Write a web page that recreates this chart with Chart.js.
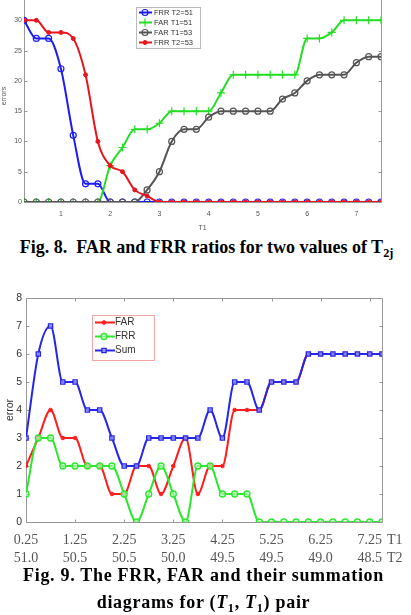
<!DOCTYPE html>
<html><head><meta charset="utf-8">
<script src="https://cdn.jsdelivr.net/npm/chart.js@4.4.0/dist/chart.umd.min.js"></script>
<style>
html,body{margin:0;padding:0;background:#fff;width:411px;height:615px;overflow:hidden;position:relative;}
#c1wrap{position:absolute;left:0;top:-20px;width:411px;height:255px;}
#c2wrap{position:absolute;left:0;top:285px;width:411px;height:285px;}
.cap{position:absolute;left:0;width:411px;text-align:center;font-family:"Liberation Serif","Times New Roman",serif;font-weight:bold;color:#000;white-space:nowrap;}
.cap sub{font-size:0.68em;vertical-align:-0.32em;line-height:0;}
.axn{position:absolute;left:387px;font-family:"Liberation Serif","Times New Roman",serif;font-size:14px;color:#555;line-height:18px;}
</style></head>
<body>
<div id="c1wrap"><canvas id="c1" width="411" height="255"></canvas></div>
<div class="cap" style="top:236px;font-size:18px;line-height:22px;left:1px;">Fig. 8.&nbsp; FAR and FRR ratios for two values of T<sub>2j</sub></div>
<div id="c2wrap"><canvas id="c2" width="411" height="285"></canvas></div>
<div class="axn" style="top:531px;">T1</div>
<div class="axn" style="top:549px;">T2</div>
<div class="cap" style="top:562px;font-size:18px;line-height:27px;letter-spacing:0.7px;left:-2px;">Fig. 9. The FRR, FAR and their summation<br>diagrams for (<i>T</i><sub>1</sub>, <i>T</i><sub>1</sub>) pair</div>
<script>
// ---------- Data: Fig. 8 ----------
const t1Values = [0.25,0.5,0.75,1.0,1.25,1.5,1.75,2.0,2.25,2.5,2.75,3.0,3.25,3.5,3.75,4.0,4.25,4.5,4.75,5.0,5.25,5.5,5.75,6.0,6.25,6.5,6.75,7.0,7.25,7.5];
const frrT2_51 = [30,27,27,22,11,3,3,0,0,0,0,0,0,0,0,0,0,0,0,0,0,0,0,0,0,0,0,0,0,0];
const farT1_51 = [0,0,0,0,0,0,0,6,9,12,12,13,15,15,15,15,18,21,21,21,21,21,21,27,27,28,30,30,30,30];
const farT1_53 = [0,0,0,0,0,0,0,0,0,0,2,5,10,12,12,14,15,15,15,15,15,17,18,20,21,21,21,23,24,24];
const frrT2_53 = [30,30,28,28,27,21,10,6,5,2,1,0,0,0,0,0,0,0,0,0,0,0,0,0,0,0,0,0,0,0];
const fig8Labels = ['FRR T2=51','FAR T1=51','FAR T1=53','FRR T2=53'];
const fig8XTicks = [1,2,3,4,5,6,7];

// ---------- Data: Fig. 9 ----------
const far9 = [2,3,4,3,3,2,2,1,1,2,2,1,2,3,1,2,2,4,4,4,5,5,5,6,6,6,6,6,6,6];
const frr9 = [1,3,3,2,2,2,2,2,1,0,1,2,1,0,2,2,1,1,1,0,0,0,0,0,0,0,0,0,0,0];
const sum9 = [3,6,7,5,5,4,4,3,2,2,3,3,3,3,3,4,3,5,5,4,5,5,5,6,6,6,6,6,6,6];
const fig9Labels = ['FAR','FRR','Sum'];
const fig9XTicks = [0.25,1.25,2.25,3.25,4.25,5.25,6.25,7.25];
const t1TickLabels = ['0.25','1.25','2.25','3.25','4.25','5.25','6.25','7.25'];
const t2TickLabels = ['51.0','50.5','50.5','50.0','49.5','49.5','49.0','48.5'];

const pts = (ys) => t1Values.map((x,i)=>({x:x,y:ys[i]}));

// Matlab-like box with inward ticks
const matlabBox = {
  id:'matlabBox',
  beforeDatasetsDraw(chart, args, o){
    if(!o || !o.color) return;
    const {ctx, chartArea:a, scales} = chart;
    ctx.save();
    ctx.strokeStyle=o.color; ctx.lineWidth=1;
    const L=Math.round(a.left)+0.5, R=Math.round(a.right)+0.5, T=Math.round(a.top)+0.5, B=Math.round(a.bottom)+0.5;
    ctx.beginPath();
    ctx.moveTo(L,T); ctx.lineTo(L,B); ctx.lineTo(R,B); ctx.lineTo(R,T); ctx.lineTo(L,T);
    ctx.stroke();
    const len=o.len;
    ctx.beginPath();
    scales.x.ticks.forEach(t=>{const p=Math.round(scales.x.getPixelForValue(t.value))+0.5;
      ctx.moveTo(p,B); ctx.lineTo(p,B-len); ctx.moveTo(p,T); ctx.lineTo(p,T+len);});
    scales.y.ticks.forEach(t=>{const p=Math.round(scales.y.getPixelForValue(t.value))+0.5;
      ctx.moveTo(L,p); ctx.lineTo(L+len,p); ctx.moveTo(R,p); ctx.lineTo(R-len,p);});
    ctx.stroke(); ctx.restore();
  }
};

// Boxed legend drawn inside the plot
const boxLegend = {
  id:'boxLegend',
  afterDatasetsDraw(chart, args, o){
    if(!o || !o.w) return;
    const ctx=chart.ctx; ctx.save();
    ctx.fillStyle='#fff'; ctx.fillRect(o.x,o.y,o.w,o.h);
    ctx.strokeStyle=o.border; ctx.lineWidth=1; ctx.strokeRect(o.x+0.5,o.y+0.5,o.w,o.h);
    chart.data.datasets.forEach((ds,i)=>{
      const y=o.y0+i*o.dy;
      ctx.strokeStyle=ds.borderColor; ctx.lineWidth=ds.borderWidth;
      ctx.beginPath(); ctx.moveTo(o.lx1,y); ctx.lineTo(o.lx2,y); ctx.stroke();
      ctx.fillStyle=ds.pointBackgroundColor; ctx.strokeStyle=ds.borderColor; ctx.lineWidth=ds.pointBorderWidth||1;
      Chart.helpers.drawPoint(ctx,{pointStyle:ds.pointStyle,radius:ds.pointRadius,borderWidth:ds.pointBorderWidth||1,rotation:0},o.mx,y);
      ctx.fillStyle=o.textColor; ctx.font=o.font; ctx.textBaseline='middle'; ctx.textAlign='left';
      ctx.fillText(ds.label,o.tx,y);
    });
    ctx.restore();
  }
};
Chart.register(matlabBox, boxLegend);

// ---------- Fig. 8 ----------
new Chart(document.getElementById('c1'), {
  type:'line',
  data:{ datasets:[
    {label:fig8Labels[0], data:pts(frrT2_51), borderColor:'#1c1cf5', borderWidth:2, pointStyle:'circle', pointRadius:3, pointBorderWidth:1.2, pointBackgroundColor:'rgba(255,255,255,0)', order:4},
    {label:fig8Labels[1], data:pts(farT1_51), borderColor:'#25dd25', borderWidth:2, pointStyle:'cross', pointRadius:4, pointBorderWidth:1.2, pointBackgroundColor:'#25dd25', order:3},
    {label:fig8Labels[2], data:pts(farT1_53), borderColor:'#555555', borderWidth:2, pointStyle:'circle', pointRadius:3, pointBorderWidth:1.2, pointBackgroundColor:'rgba(255,255,255,0)', order:2},
    {label:fig8Labels[3], data:pts(frrT2_53), borderColor:'#e8141e', borderWidth:2, pointStyle:'circle', pointRadius:2, pointBorderWidth:1, pointBackgroundColor:'#e8141e', order:1}
  ]},
  options:{
    responsive:false, animation:false, devicePixelRatio:1,
    layout:{padding:{left:0,right:30,top:10,bottom:0}},
    elements:{line:{cubicInterpolationMode:'monotone'}},
    plugins:{
      legend:{display:false}, tooltip:{enabled:false},
      matlabBox:{color:'#999', len:3},
      boxLegend:{x:136,y:27,w:64,h:41,border:'#bbb',y0:32.5,dy:10,lx1:139,lx2:152,mx:145,tx:154,font:'7.5px "Liberation Sans", Arial, sans-serif',textColor:'#333'}
    },
    scales:{
      x:{type:'linear',min:0.25,max:7.5,
        afterBuildTicks:(s)=>{s.ticks=fig8XTicks.map(v=>({value:v}));},
        afterFit:(s)=>{s.height=33;},
        grid:{display:false,drawTicks:false}, border:{display:false},
        ticks:{padding:8,color:'#555',font:{family:'"Liberation Sans", Arial, sans-serif',size:7},maxRotation:0},
        title:{display:true,text:'T1',color:'#555',font:{family:'"Liberation Sans", Arial, sans-serif',size:7},padding:{top:0,bottom:3}}
      },
      y:{type:'linear',min:0,max:35,
        afterFit:(s)=>{s.width=24;},
        grid:{display:false,drawTicks:false}, border:{display:false},
        ticks:{stepSize:5,padding:2,color:'#555',font:{family:'"Liberation Sans", Arial, sans-serif',size:7}},
        title:{display:true,text:'errors',color:'#555',font:{family:'"Liberation Sans", Arial, sans-serif',size:7},padding:{top:0,bottom:0}}
      }
    }
  }
});

// ---------- Fig. 9 ----------
new Chart(document.getElementById('c2'), {
  type:'line',
  data:{ datasets:[
    {label:fig9Labels[0], data:pts(far9), borderColor:'#ff1c1c', borderWidth:2, pointStyle:'circle', pointRadius:1.8, pointBorderWidth:1, pointBackgroundColor:'#ff1c1c', order:3},
    {label:fig9Labels[1], data:pts(frr9), borderColor:'#2ee62e', borderWidth:2, pointStyle:'circle', pointRadius:3, pointBorderWidth:1.3, pointBackgroundColor:'rgba(200,255,200,0.6)', order:2},
    {label:fig9Labels[2], data:pts(sum9), borderColor:'#2626e6', borderWidth:2, pointStyle:'rect', pointRadius:3, pointBorderWidth:1.3, pointBackgroundColor:'rgba(170,170,255,0.7)', order:1}
  ]},
  options:{
    responsive:false, animation:false, devicePixelRatio:1,
    layout:{padding:{left:0,right:29,top:13,bottom:0}},
    elements:{line:{cubicInterpolationMode:'monotone'}},
    plugins:{
      legend:{display:false}, tooltip:{enabled:false},
      matlabBox:{color:'#999', len:3},
      boxLegend:{x:92,y:30,w:62,h:45,border:'#f3a5a5',y0:37.5,dy:14,lx1:95,lx2:115,mx:104,tx:115,font:'10px "Liberation Sans", Arial, sans-serif',textColor:'#333'}
    },
    scales:{
      x:{type:'linear',min:0.25,max:7.5,
        afterBuildTicks:(s)=>{s.ticks=fig9XTicks.map(v=>({value:v}));},
        afterFit:(s)=>{s.height=48;},
        grid:{display:false,drawTicks:false}, border:{display:false},
        ticks:{padding:9,color:'#555',maxRotation:0,autoSkip:false,
          font:{family:'"Liberation Serif", "Times New Roman", serif',size:14,lineHeight:1.3},
          callback:(v,i)=>[t1TickLabels[i],t2TickLabels[i]]}
      },
      y:{type:'linear',min:0,max:8,
        afterFit:(s)=>{s.width=26;},
        grid:{display:false,drawTicks:false}, border:{display:false},
        ticks:{stepSize:1,padding:4,color:'#333',font:{family:'"Liberation Sans", Arial, sans-serif',size:10.5}},
        title:{display:true,text:'error',color:'#333',font:{family:'"Liberation Sans", Arial, sans-serif',size:10.5},padding:{top:4,bottom:0}}
      }
    }
  }
});
</script>
</body></html>
